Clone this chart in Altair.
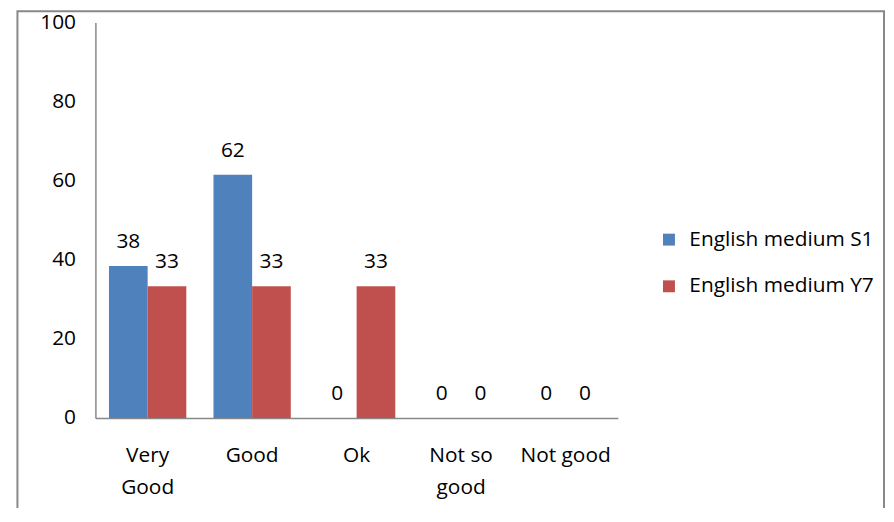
import altair as alt
import pandas as pd

categories = ["Very Good", "Good", "Ok", "Not so good", "Not good"]
series_names = ["English medium S1", "English medium Y7"]
s1_values = [38.46, 61.54, 0, 0, 0]
y7_values = [33.33, 33.33, 33.33, 0, 0]
colors = ["#4F81BD", "#C0504D"]
y_ticks = [0, 20, 40, 60, 80, 100]

rows = []
for i, c in enumerate(categories):
    rows.append({"category": c, "series": series_names[0], "value": s1_values[i]})
    rows.append({"category": c, "series": series_names[1], "value": y7_values[i]})
df = pd.DataFrame(rows)

FONT = "Open Sans"
FS = 21
AXIS_COLOR = "#888888"

label_expr = ("datum.value == 'Very Good' ? ['Very', 'Good'] : "
              "datum.value == 'Not so good' ? ['Not so', 'good'] : datum.value")

x_enc = alt.X(
    "category:N", sort=categories,
    scale=alt.Scale(paddingInner=0.26, paddingOuter=0.13),
    axis=alt.Axis(title=None, labelAngle=0, ticks=False, labelPadding=27,
                  labelExpr=label_expr, labelLineHeight=32,
                  labelFontSize=FS, labelFont=FONT, labelColor="black",
                  domainColor=AXIS_COLOR, domainWidth=1.5),
)
xo_enc = alt.XOffset("series:N", sort=series_names,
                     scale=alt.Scale(paddingInner=0, paddingOuter=0))
y_enc = alt.Y(
    "value:Q",
    scale=alt.Scale(domain=[0, 100], nice=False),
    axis=alt.Axis(title=None, values=y_ticks, ticks=False, grid=False,
                  labelPadding=20, labelFontSize=FS, labelFont=FONT,
                  labelColor="black", domainColor=AXIS_COLOR, domainWidth=1.5),
)

base = alt.Chart(df)

bars = base.mark_bar().encode(
    x=x_enc,
    xOffset=xo_enc,
    y=y_enc,
    color=alt.Color(
        "series:N", sort=series_names,
        scale=alt.Scale(domain=series_names, range=colors),
        legend=alt.Legend(title=None, orient="none", legendX=567, legendY=208,
                          symbolType="square", symbolSize=144,
                          symbolStrokeWidth=0, labelFontSize=FS,
                          labelFont=FONT, labelColor="black", labelOffset=10,
                          labelLimit=400, rowPadding=25),
    ),
)

labels = base.mark_text(dy=-24, baseline="middle", fontSize=FS, font=FONT,
                        color="black").encode(
    x=alt.X("category:N", sort=categories),
    xOffset=alt.XOffset("series:N", sort=series_names),
    y=alt.Y("value:Q"),
    text=alt.Text("value:Q", format=".0f"),
)

frame = alt.Chart(pd.DataFrame({"f": [0]})).mark_rect(
    filled=False, stroke=AXIS_COLOR, strokeWidth=2
).encode(
    x=alt.value(-78.5), x2=alt.value(794), y=alt.value(-11.5), y2=alt.value(700)
)

chart = alt.layer(frame, bars, labels).properties(
    width=526, height=398,
    autosize=alt.AutoSizeParams(type="none"),
    padding={"left": 88, "top": 13, "right": 270, "bottom": 89},
    background="white",
).configure_view(strokeWidth=0)

chart.save("out.html", embed_options={"renderer": "svg", "actions": False})
